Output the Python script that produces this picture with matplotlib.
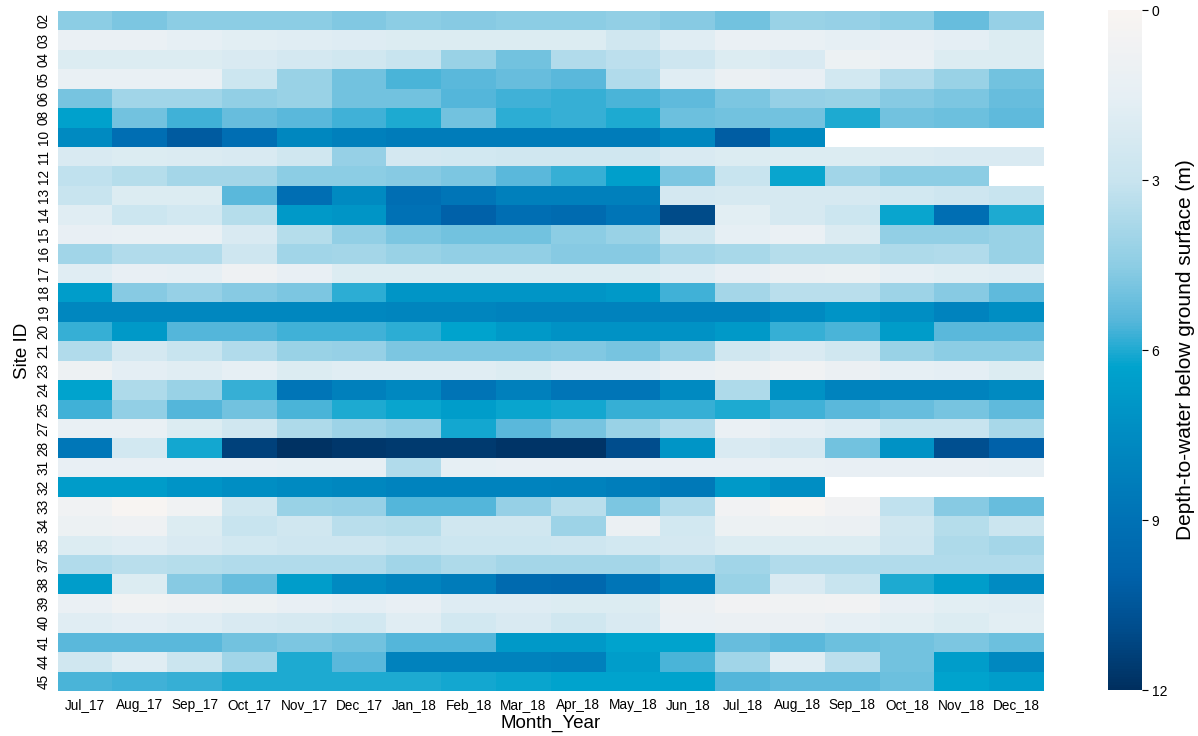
import numpy as np
import matplotlib
matplotlib.use("Agg")
import matplotlib.pyplot as plt
from matplotlib.colors import LinearSegmentedColormap
import seaborn as sns
import pandas as pd

months = ["Jul_17", "Aug_17", "Sep_17", "Oct_17", "Nov_17", "Dec_17",
          "Jan_18", "Feb_18", "Mar_18", "Apr_18", "May_18", "Jun_18",
          "Jul_18", "Aug_18", "Sep_18", "Oct_18", "Nov_18", "Dec_18"]

sites = ["02", "03", "04", "05", "06", "08", "10", "11", "12", "13", "14",
         "15", "16", "17", "18", "19", "20", "21", "23", "24", "25", "27",
         "28", "31", "32", "33", "34", "35", "37", "38", "39", "40", "41",
         "44", "45"]

nan = np.nan
# depth to water (m) per site (rows) and month (columns)
depth_m = [
    [4.5, 4.8, 4.5, 4.5, 4.5, 4.7, 4.5, 4.6, 4.5, 4.5, 4.4, 4.6, 5.0, 4.2, 4.3, 4.5, 5.2, 4.3],
    [1.2, 1.2, 1.5, 1.7, 1.8, 1.9, 2.0, 2.0, 2.0, 2.0, 2.6, 1.8, 1.2, 1.3, 1.5, 1.4, 1.6, 2.0],
    [2.0, 2.0, 2.0, 2.2, 2.4, 2.6, 3.0, 4.2, 5.0, 3.6, 3.3, 2.7, 2.0, 2.2, 1.0, 1.3, 2.0, 2.0],
    [1.3, 1.3, 1.3, 2.8, 4.2, 5.0, 5.6, 5.4, 5.2, 5.4, 3.6, 1.8, 1.1, 1.4, 2.5, 3.6, 4.2, 5.0],
    [4.9, 4.0, 4.0, 4.4, 4.2, 5.0, 5.0, 5.5, 5.7, 5.8, 5.6, 5.3, 4.8, 4.3, 4.2, 4.6, 4.8, 5.2],
    [6.4, 5.0, 5.7, 5.2, 5.4, 5.7, 6.0, 5.0, 5.9, 5.8, 6.0, 5.1, 5.0, 5.0, 6.0, 5.0, 5.1, 5.3],
    [7.6, 9.2, 10.3, 9.2, 7.8, 8.2, 8.4, 8.4, 8.4, 8.4, 8.4, 7.8, 10.2, 7.6, nan, nan, nan, nan],
    [2.2, 2.0, 2.1, 2.2, 2.6, 4.3, 2.4, 2.5, 2.6, 2.6, 2.6, 2.2, 2.0, 2.0, 2.0, 2.1, 2.2, 2.2],
    [3.2, 3.5, 3.9, 3.9, 4.5, 4.5, 4.6, 4.8, 5.4, 5.8, 6.5, 4.8, 3.0, 6.2, 4.0, 4.5, 4.5, nan],
    [3.0, 2.0, 2.0, 5.4, 9.2, 7.6, 9.2, 8.8, 8.2, 8.2, 8.2, 2.4, 2.3, 2.3, 2.3, 2.5, 2.7, 3.0],
    [1.8, 2.8, 2.5, 3.5, 6.8, 7.0, 9.0, 10.0, 9.2, 9.4, 8.8, 11.0, 1.7, 2.3, 2.8, 6.2, 9.2, 6.0],
    [1.4, 1.3, 1.3, 2.2, 3.5, 4.4, 4.8, 5.0, 5.0, 4.5, 4.2, 2.6, 1.5, 1.2, 2.1, 4.4, 4.4, 4.2],
    [4.0, 3.6, 3.6, 2.7, 4.0, 3.9, 4.2, 4.4, 4.4, 4.6, 4.6, 4.0, 3.8, 3.5, 3.5, 3.7, 3.6, 4.2],
    [1.8, 1.4, 1.5, 0.8, 1.4, 2.0, 2.0, 2.0, 2.0, 2.0, 2.0, 1.8, 1.4, 1.1, 1.0, 1.5, 1.7, 1.8],
    [6.6, 4.6, 4.3, 4.6, 4.8, 5.9, 7.0, 7.0, 7.0, 7.0, 6.8, 5.7, 3.9, 3.4, 3.4, 4.1, 4.6, 5.3],
    [7.8, 7.8, 7.8, 7.8, 7.8, 7.8, 7.9, 7.9, 8.1, 8.1, 8.1, 8.1, 8.1, 7.6, 7.1, 7.4, 8.0, 7.4],
    [5.8, 6.8, 5.5, 5.5, 5.7, 5.7, 5.9, 6.3, 6.8, 7.2, 7.2, 7.2, 6.8, 5.8, 5.6, 6.7, 5.4, 5.4],
    [3.6, 2.4, 3.0, 3.6, 4.2, 4.3, 4.8, 4.8, 4.8, 4.7, 4.9, 4.4, 2.6, 2.2, 2.6, 4.2, 4.5, 4.5],
    [0.9, 1.6, 1.8, 1.5, 2.0, 1.8, 1.8, 1.8, 2.0, 1.6, 1.6, 1.2, 0.9, 0.7, 1.1, 1.5, 1.6, 2.0],
    [6.3, 3.7, 4.2, 5.8, 8.8, 8.2, 7.7, 8.9, 8.2, 8.8, 8.8, 7.6, 3.7, 7.2, 8.0, 8.0, 8.0, 7.6],
    [5.7, 4.4, 5.5, 5.0, 5.6, 6.0, 6.2, 6.6, 6.2, 6.1, 5.8, 5.8, 6.0, 5.7, 5.4, 5.2, 4.9, 5.3],
    [1.3, 1.3, 2.0, 2.6, 3.7, 4.1, 4.4, 6.1, 5.4, 4.9, 4.2, 3.6, 1.2, 1.6, 1.9, 3.0, 3.0, 3.8],
    [8.7, 2.5, 6.1, 11.3, 11.9, 11.7, 11.6, 11.6, 11.8, 11.8, 10.9, 7.0, 2.2, 2.4, 5.0, 7.2, 10.8, 10.0],
    [1.4, 1.4, 1.4, 1.4, 1.5, 1.5, 3.6, 1.5, 1.4, 1.4, 1.4, 1.4, 1.4, 1.3, 1.4, 1.4, 1.4, 1.5],
    [6.7, 6.7, 7.1, 7.4, 7.6, 7.8, 8.0, 8.0, 8.0, 8.1, 8.3, 8.6, 6.8, 7.4, nan, nan, nan, nan],
    [0.7, 0.1, 0.7, 2.6, 4.2, 4.3, 5.5, 5.5, 4.3, 3.4, 4.8, 3.6, 0.6, 0.1, 0.6, 3.2, 4.6, 5.2],
    [1.0, 0.8, 2.0, 3.0, 2.6, 3.4, 3.5, 2.6, 2.6, 4.1, 1.1, 2.5, 1.0, 1.0, 1.1, 2.6, 3.5, 2.9],
    [2.0, 1.8, 2.2, 2.5, 2.7, 2.7, 3.0, 2.8, 2.8, 2.7, 2.5, 2.4, 2.0, 2.0, 2.0, 2.7, 3.7, 3.9],
    [3.6, 3.4, 3.5, 3.6, 3.6, 3.6, 4.0, 3.7, 3.9, 3.9, 3.9, 3.6, 4.0, 3.6, 3.6, 3.6, 3.6, 3.6],
    [6.6, 2.0, 4.6, 5.2, 6.6, 7.6, 8.0, 8.4, 9.5, 9.6, 8.8, 8.0, 4.2, 2.2, 3.0, 6.0, 6.6, 7.5],
    [1.2, 0.7, 0.8, 1.0, 1.4, 1.6, 1.4, 1.9, 1.9, 2.0, 2.0, 1.1, 0.6, 0.7, 0.6, 1.4, 1.7, 1.8],
    [1.8, 1.6, 1.8, 2.2, 2.3, 2.5, 1.8, 2.5, 2.2, 2.6, 2.2, 1.2, 1.1, 1.1, 1.5, 1.7, 2.0, 1.7],
    [5.4, 5.4, 5.4, 5.0, 4.8, 5.0, 5.5, 5.5, 6.8, 6.8, 6.3, 6.3, 5.2, 5.4, 5.1, 5.0, 4.8, 5.1],
    [2.6, 1.8, 2.9, 4.0, 6.0, 5.4, 8.1, 8.1, 8.1, 8.2, 6.6, 5.6, 4.0, 1.8, 3.3, 5.0, 6.6, 7.7],
    [5.6, 5.7, 5.8, 6.0, 6.0, 6.0, 6.0, 6.1, 6.2, 6.3, 6.3, 6.3, 5.5, 5.3, 5.3, 5.1, 6.3, 6.6],
]

# white -> light blue -> cyan -> navy
cmap = LinearSegmentedColormap.from_list("depth", [
    (0.0 / 12, "#f8f4f2"),
    (1.5 / 12, "#e6eff4"),
    (3.0 / 12, "#c8e4ef"),
    (4.5 / 12, "#8dcde4"),
    (5.5 / 12, "#55b6da"),
    (6.3 / 12, "#00a3cd"),
    (7.5 / 12, "#008cc2"),
    (9.0 / 12, "#0072b5"),
    (10.0 / 12, "#0062aa"),
    (11.0 / 12, "#004b8a"),
    (12.0 / 12, "#002f5f"),
])

sns.set_style("white")
plt.rcParams["font.family"] = ["Liberation Sans", "DejaVu Sans"]
plt.rcParams["text.color"] = "black"
plt.rcParams["axes.labelcolor"] = "black"
plt.rcParams["xtick.color"] = "black"
plt.rcParams["ytick.color"] = "black"

df = pd.DataFrame(depth_m, index=sites, columns=months)

W, H = 1198, 736
fig = plt.figure(figsize=(W / 100, H / 100), dpi=100)
ax = fig.add_axes([57.7 / W, 1 - 691 / H, (1044 - 57.7) / W, 680 / H])
cax = fig.add_axes([1108 / W, 1 - 690 / H, 34 / W, 680 / H])

sns.heatmap(df, ax=ax, cbar_ax=cax, cmap=cmap, vmin=0, vmax=12,
            xticklabels=months, yticklabels=sites,
            cbar_kws={"ticks": [0, 3, 6, 9, 12]})

ax.tick_params(axis="both", length=0, labelsize=9.8, pad=5, colors="black")
ax.set_yticklabels(sites, rotation=90, va="center")
ax.set_xticklabels(months, rotation=0)
ax.set_xlabel("Month_Year", fontsize=13.5, labelpad=2, color="black")
ax.set_ylabel("Site ID", fontsize=13.5, labelpad=4, color="black")

cax.invert_yaxis()
cax.tick_params(axis="y", length=4, width=0.8, labelsize=10, pad=3, right=True,
                colors="black")
cax.set_ylabel("Depth-to-water below ground surface (m)", fontsize=15,
               labelpad=6, color="black")

fig.savefig("out.png", dpi=100)
